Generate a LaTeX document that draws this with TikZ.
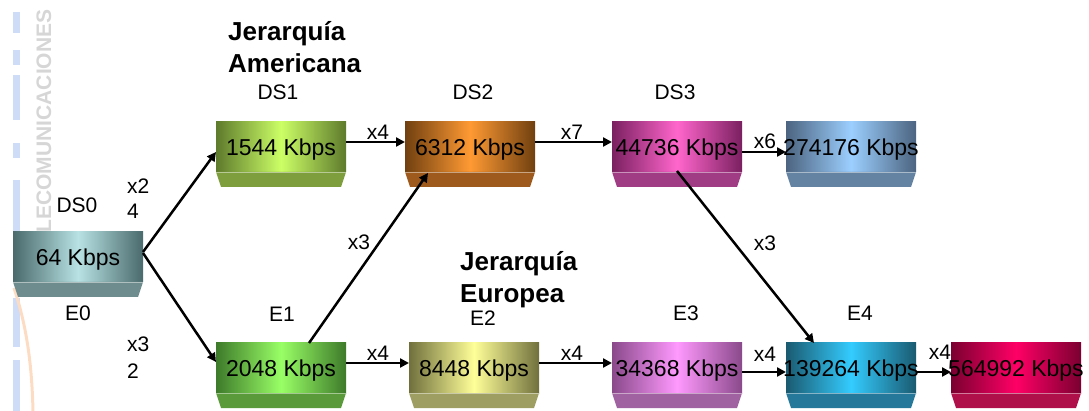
\documentclass[tikz,border=0pt]{standalone}
\usepackage{fontspec}
\setmainfont{Liberation Sans}
\usetikzlibrary{arrows.meta}
\definecolor{c0e}{HTML}{4A6A6C}\definecolor{c0m}{HTML}{B8E2E4}\definecolor{c0b}{HTML}{6E8C8E}
\definecolor{c1e}{HTML}{5E7A2C}\definecolor{c1m}{HTML}{CCFF66}\definecolor{c1b}{HTML}{7E9E3E}
\definecolor{c2e}{HTML}{704010}\definecolor{c2m}{HTML}{FF9A33}\definecolor{c2b}{HTML}{9E5A1C}
\definecolor{c3e}{HTML}{7A2060}\definecolor{c3m}{HTML}{FF66CC}\definecolor{c3b}{HTML}{A03C84}
\definecolor{c4e}{HTML}{4C6480}\definecolor{c4m}{HTML}{9CCFFF}\definecolor{c4b}{HTML}{6482A2}
\definecolor{c5e}{HTML}{3E7A2A}\definecolor{c5m}{HTML}{99FF66}\definecolor{c5b}{HTML}{5A9A3A}
\definecolor{c6e}{HTML}{70703E}\definecolor{c6m}{HTML}{FFFF99}\definecolor{c6b}{HTML}{9E9E62}
\definecolor{c7e}{HTML}{8A4A8A}\definecolor{c7m}{HTML}{FF99FF}\definecolor{c7b}{HTML}{A062A0}
\definecolor{c8e}{HTML}{1A5A70}\definecolor{c8m}{HTML}{33CCFF}\definecolor{c8b}{HTML}{26789A}
\definecolor{c9e}{HTML}{7A0030}\definecolor{c9m}{HTML}{FF0066}\definecolor{c9b}{HTML}{B0104A}
\definecolor{wmblue}{HTML}{CFDCF8}
\definecolor{wmorange}{HTML}{FDDCC4}
\newcommand{\mkrate}[7]{%
  \node[rate, anchor=north west, left color=#5, right color=#5, middle color=#6] (#1) at (#2,#3) {\makebox[0pt]{#4}};
  \fill[#7] (#1.south west) -- (#1.south east) -- ++(-5,15) -- ++(-120,0) -- cycle;
  \draw[white, opacity=0.45, line width=0.8pt] (#1.south west) -- (#1.south east);
}
\begin{document}
\begin{tikzpicture}[x=1pt,y=-1pt,
  rate/.style={minimum width=130pt, minimum height=50pt, inner sep=0pt, outer sep=0pt,
    text height=16.5pt, text depth=0pt, font=\fontsize{23}{23}\selectfont},
  lbl/.style={font=\fontsize{21}{21}\selectfont, inner sep=0pt},
  mul/.style={font=\fontsize{21}{21}\selectfont, inner sep=0pt},
  ttl/.style={font=\fontsize{26}{26}\bfseries\selectfont, inner sep=0pt, anchor=base west},
  link/.style={line width=2.5pt, -{Triangle[length=9pt,width=9pt]}},
]
\useasboundingbox (0,0) rectangle (1089,411);
% watermark
\foreach \a/\b in {12/33,50/65,75/120,143/158,180/232,298/347,360/411}
  \fill[wmblue] (13,\a) rectangle (20,\b);
\draw[wmorange, line width=3pt] (14,288) .. controls (28,330) and (32,370) .. (33,411);
\node[rotate=90, font=\fontsize{21}{21}\bfseries\selectfont, text=black!16, inner sep=0pt] (wm) at (44,121) {LECOMUNICACIONES};

% boxes
\mkrate{ds0}{13}{232}{64 Kbps}{c0e}{c0m}{c0b}
\mkrate{ds1}{216}{122}{1544 Kbps}{c1e}{c1m}{c1b}
\mkrate{ds2}{405}{122}{6312 Kbps}{c2e}{c2m}{c2b}
\mkrate{ds3}{612}{122}{44736 Kbps}{c3e}{c3m}{c3b}
\mkrate{ds4}{786}{122}{274176 Kbps}{c4e}{c4m}{c4b}
\mkrate{e1}{216}{343}{2048 Kbps}{c5e}{c5m}{c5b}
\mkrate{e2}{409}{343}{8448 Kbps}{c6e}{c6m}{c6b}
\mkrate{e3}{612}{343}{34368 Kbps}{c7e}{c7m}{c7b}
\mkrate{e4}{786}{343}{139264 Kbps}{c8e}{c8m}{c8b}
\mkrate{e5}{951}{343}{564992 Kbps}{c9e}{c9m}{c9b}

% level labels
\node[lbl] (lds0) at (77,205) {DS0};
\node[lbl] (le0) at (78,313) {E0};
\node[lbl] (lds1) at (278,92) {DS1};
\node[lbl] (lds2) at (473,92) {DS2};
\node[lbl] (lds3) at (675,92) {DS3};
\node[lbl] (le1) at (282,314) {E1};
\node[lbl] (le2) at (483,318) {E2};
\node[lbl] (le3) at (686,313) {E3};
\node[lbl] (le4) at (860,313) {E4};

% titles
\node[ttl] (ta1) at (228,41) {Jerarquía};
\node[ttl] (ta2) at (228,73) {Americana};
\node[ttl] (te1) at (460,271) {Jerarquía};
\node[ttl] (te2) at (460,303) {Europea};

% connectors
\draw[link] ([yshift=5pt]ds0.east) -- ([yshift=-5pt]ds1.west);
\draw[link] ([yshift=4pt]ds0.east) -- ([yshift=6pt]e1.west);
\draw[link] ([yshift=5pt]ds1.east) -- ([yshift=5pt]ds2.west);
\draw[link] ([yshift=5pt]ds2.east) -- ([yshift=5pt]ds3.west);
\draw[link] ([yshift=-5pt]ds3.east) -- ([yshift=-5pt]ds4.west);
\draw[link] ([xshift=28pt]e1.north) -- ([xshift=-42pt,yshift=-1pt]ds2.south);
\draw[link] ([yshift=1pt]ds3.south) -- ([xshift=-37pt]e4.north);
\draw[link] ([yshift=5pt]e1.east) -- ([yshift=5pt]e2.west);
\draw[link] ([yshift=5pt]e2.east) -- ([yshift=5pt]e3.west);
\draw[link] ([yshift=-4pt]e3.east) -- ([yshift=-4pt]e4.west);
\draw[link] ([yshift=-4pt]e4.east) -- ([yshift=-4pt]e5.west);

% multipliers
\node[mul, anchor=west] (m1a) at (127,186) {x2};
\node[mul, anchor=west] (m1b) at (127,211) {4};
\node[mul, anchor=west] (m2a) at (127,344) {x3};
\node[mul, anchor=west] (m2b) at (127,371) {2};
\node[mul] (m3) at (378,132) {x4};
\node[mul] (m4) at (572,132) {x7};
\node[mul] (m5) at (765,141) {x6};
\node[mul] (m6) at (359,242) {x3};
\node[mul] (m7) at (765,243) {x3};
\node[mul] (m8) at (378,353) {x4};
\node[mul] (m9) at (572,353) {x4};
\node[mul] (m10) at (765,354) {x4};
\node[mul] (m11) at (940,352) {x4};
\end{tikzpicture}
\end{document}
